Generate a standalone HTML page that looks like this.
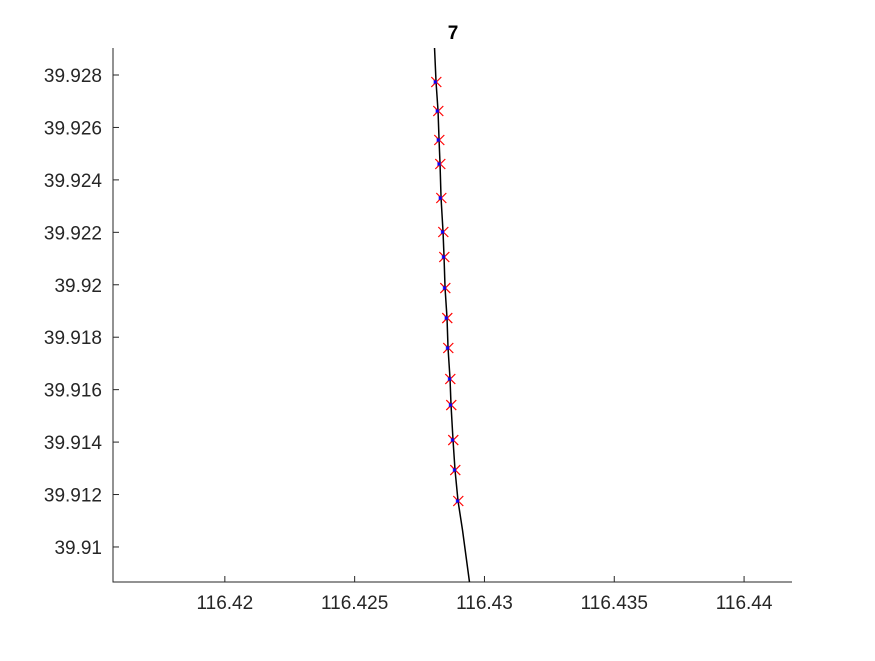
<!DOCTYPE html>
<html><head><meta charset="utf-8"><style>
body{margin:0;background:#fff;}
svg text{font-family:"Liberation Sans",sans-serif;}
</style></head><body>
<svg id="chart" width="875" height="656">
<rect width="875" height="656" fill="#fff"/>
<text x="453" y="39" text-anchor="middle" font-size="19" font-weight="bold" fill="#000">7</text>
<g id="axes"></g>
<g id="plot"></g>
</svg>
<script>
const xTicks=[116.42,116.425,116.43,116.435,116.44];
const xTickLabels=["116.42","116.425","116.43","116.435","116.44"];
const yTicks=[39.91,39.912,39.914,39.916,39.918,39.92,39.922,39.924,39.926,39.928];
const yTickLabels=["39.91","39.912","39.914","39.916","39.918","39.92","39.922","39.924","39.926","39.928"];
const lineX=[116.428077,116.428135,116.428212,116.428251,116.428289,116.428328,116.428405,116.428443,116.428482,116.428558,116.428597,116.428674,116.428712,116.428789,116.428866,116.428982,116.429154,116.429423];
const lineY=[39.92903,39.927733,39.926627,39.925521,39.924606,39.923309,39.922012,39.921059,39.919876,39.918732,39.917588,39.916406,39.915414,39.914079,39.912935,39.911753,39.910647,39.908664];
const redX=[116.428145,116.428222,116.428261,116.428299,116.428338,116.428415,116.428453,116.428492,116.428568,116.428607,116.428684,116.428722,116.428799,116.428876,116.428992];
const redY=[39.927733,39.926627,39.925521,39.924606,39.923309,39.922012,39.921059,39.919876,39.918732,39.917588,39.916406,39.915414,39.914079,39.912935,39.911753];
const blueX=[116.428105,116.428182,116.428221,116.428249,116.428298,116.428385,116.428423,116.428462,116.428528,116.428577,116.428654,116.428692,116.428769,116.428846,116.428962];
const blueY=[39.927733,39.926627,39.925521,39.924606,39.923309,39.922012,39.921059,39.919876,39.918732,39.917588,39.916406,39.915414,39.914079,39.912935,39.911753];
const L=113,R=792,T=48,B=582;
const X0=116.415692,X1=116.441846,Y0=39.908664,Y1=39.92903;
const sx=v=>L+(v-X0)/(X1-X0)*(R-L);
const sy=v=>B-(v-Y0)/(Y1-Y0)*(B-T);
const NS="http://www.w3.org/2000/svg";
function mk(tag,attrs,parent){const e=document.createElementNS(NS,tag);for(const k in attrs)e.setAttribute(k,attrs[k]);parent.appendChild(e);return e;}
const axes=document.getElementById('axes'),plot=document.getElementById('plot');
let a=mk('path',{d:`M${L},${T}V${B}H${R}`,fill:'none',stroke:'#262626','stroke-width':1},axes);


xTicks.forEach((v,i)=>{const x=sx(v);
 let t=mk('line',{x1:x,x2:x,y1:B,y2:B-6,stroke:'#262626'},axes);
 
 
 let tx=mk('text',{x:x,y:B+27,'text-anchor':'middle','font-size':19,fill:'#262626'},axes);tx.textContent=xTickLabels[i];
 
 });
yTicks.forEach((v,i)=>{const y=sy(v);
 let t=mk('line',{x1:L,x2:L+6,y1:y,y2:y,stroke:'#262626'},axes);
 
 
 let tx=mk('text',{x:L-11,y:y+7,'text-anchor':'end','font-size':19,fill:'#262626'},axes);tx.textContent=yTickLabels[i];
 
 });
let ln=mk('polyline',{points:lineX.map((v,i)=>sx(v)+','+sy(lineY[i])).join(' '),fill:'none',stroke:'#000','stroke-width':1.5},plot);


function cross(x,y,s,c,w,name){let p=mk('path',{d:`M${x-s},${y-s}L${x+s},${y+s}M${x-s},${y+s}L${x+s},${y-s}`,stroke:c,'stroke-width':w,fill:'none'},plot);
 
 }
redX.forEach((v,i)=>cross(sx(v),sy(redY[i]),5,'#ff0000',1.2,'red-marker'));
blueX.forEach((v,i)=>cross(sx(v),sy(blueY[i]),1.5,'#0000ff',1.5,'blue-marker'));
</script>
</body></html>
